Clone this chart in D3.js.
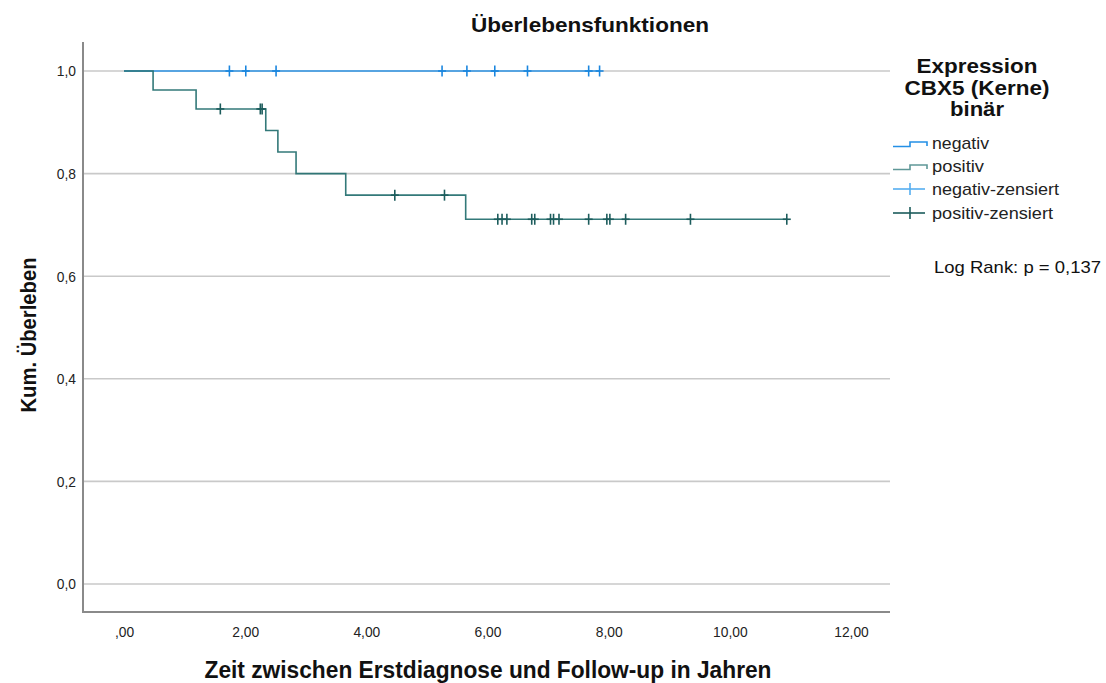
<!DOCTYPE html>
<html>
<head>
<meta charset="utf-8">
<script src="https://cdn.jsdelivr.net/npm/d3@7"></script>
<style>
  html, body { margin: 0; padding: 0; background: #fff; }
  svg { display: block; font-family: "Liberation Sans", Arial, sans-serif; }
</style>
</head>
<body>
<svg id="chart" width="1106" height="683"></svg>
<script>
// Kaplan-Meier data: Expression CBX5 (Kerne) binär
const groups = ["negativ", "positiv"];
const legendLabels = ["negativ", "positiv", "negativ-zensiert", "positiv-zensiert"];

// negativ: no events, only censored cases
const negStepTimes = [0];
const negStepSurv = [1.0];
const negEnd = 7.85;
const negCensored = [1.74, 2.01, 2.51, 5.25, 5.66, 6.12, 6.66, 7.67, 7.85];

// positiv: event times and survival after each step
const posStepTimes = [0, 0.48, 1.19, 2.34, 2.54, 2.84, 3.66, 5.64];
const posStepSurv = [1.0, 0.963, 0.926, 0.884, 0.842, 0.800, 0.758, 0.711];
const posEnd = 10.94;
const posCensored = [1.59, 2.25, 2.28, 4.47, 5.29, 6.17, 6.24, 6.32, 6.73, 6.78,
                     7.04, 7.09, 7.18, 7.67, 7.97, 8.02, 8.28, 9.35, 10.94];

const xTicks = [0, 2, 4, 6, 8, 10, 12];
const yTicks = [0, 0.2, 0.4, 0.6, 0.8, 1.0];
const logRankText = "Log Rank: p = 0,137";

const svg = d3.select("#chart");

const plot = { left: 83, right: 890, top: 42, bottom: 612 };
const x = d3.scaleLinear().domain([0, 12]).range([124, 851]);
const y = d3.scaleLinear().domain([0, 1]).range([584, 71]);

const colors = {
  negLine: "#2490e6", negMark: "#1a86df",
  posLine: "#287272", posMark: "#1c5c5c",
  posLegend: "#5f9898"
};

// squeeze text horizontally so glyphs are taller but keep a given width ratio
function condense(sel, ratio) {
  sel.each(function () {
    const w = this.getComputedTextLength();
    d3.select(this).attr("textLength", w * ratio).attr("lengthAdjust", "spacingAndGlyphs");
  });
}

// gridlines
svg.append("g").selectAll("line").data(yTicks).join("line")
  .attr("x1", plot.left).attr("x2", plot.right)
  .attr("y1", d => y(d)).attr("y2", d => y(d))
  .attr("stroke", "#c9c9c9").attr("stroke-width", 1.6);

// axis labels via d3 axes
const deComma = s => s.replace(".", ",");
const yAxis = d3.axisLeft(y).tickValues(yTicks).tickSize(0).tickPadding(6)
  .tickFormat(d => deComma(d3.format(".1f")(d)));
const gy = svg.append("g").attr("transform", `translate(${plot.left - 1},0)`).call(yAxis);
gy.select(".domain").remove();
gy.selectAll("text").attr("font-size", 15).attr("fill", "#222")
  .attr("font-family", "Liberation Sans, Arial, sans-serif").call(condense, 0.92);

const xAxis = d3.axisBottom(x).tickValues(xTicks).tickSize(0).tickPadding(14)
  .tickFormat(d => deComma(d3.format(".2f")(d)).replace(/^0,/, ","));
const gx = svg.append("g").attr("transform", `translate(0,${plot.bottom})`).call(xAxis);
gx.select(".domain").remove();
gx.selectAll("text").attr("font-size", 15).attr("fill", "#222")
  .attr("font-family", "Liberation Sans, Arial, sans-serif").call(condense, 0.92);

// axis frame lines
svg.append("line").attr("x1", plot.left).attr("x2", plot.left)
  .attr("y1", plot.top).attr("y2", plot.bottom)
  .attr("stroke", "#8a8a8a").attr("stroke-width", 2);
svg.append("line").attr("x1", plot.left - 1).attr("x2", plot.right)
  .attr("y1", plot.bottom).attr("y2", plot.bottom)
  .attr("stroke", "#8a8a8a").attr("stroke-width", 2);

// step curve builder
function stepPoints(times, surv, end) {
  const pts = times.map((t, i) => [t, surv[i]]);
  pts.push([end, surv[surv.length - 1]]);
  return pts;
}
function survAt(times, surv, t) {
  let s = surv[0];
  times.forEach((tt, i) => { if (tt <= t) s = surv[i]; });
  return s;
}
const stepLine = d3.line().x(d => x(d[0])).y(d => y(d[1])).curve(d3.curveStepAfter);

function drawGroup(times, surv, end, censored, lineColor, markColor) {
  const g = svg.append("g");
  g.append("path").datum(stepPoints(times, surv, end))
    .attr("d", stepLine).attr("fill", "none")
    .attr("stroke", lineColor).attr("stroke-width", 1.6).attr("opacity", 0.95);
  const marks = g.selectAll("g.cens").data(censored).join("g")
    .attr("transform", d => `translate(${x(d)},${y(survAt(times, surv, d))})`);
  marks.append("line").attr("x1", 0).attr("x2", 0).attr("y1", -5.5).attr("y2", 5.5)
    .attr("stroke", markColor).attr("stroke-width", 1.6);
  marks.append("line").attr("x1", -4).attr("x2", 4).attr("y1", 0).attr("y2", 0)
    .attr("stroke", markColor).attr("stroke-width", 1.6);
}
drawGroup(negStepTimes, negStepSurv, negEnd, negCensored, colors.negLine, colors.negMark);
drawGroup(posStepTimes, posStepSurv, posEnd, posCensored, colors.posLine, colors.posMark);

// titles
svg.append("text").attr("x", 590).attr("y", 32).attr("text-anchor", "middle")
  .attr("font-size", 21).attr("font-weight", "bold").attr("fill", "#111")
  .attr("textLength", 238).attr("lengthAdjust", "spacingAndGlyphs")
  .text("Überlebensfunktionen");

svg.append("text").attr("x", 488).attr("y", 678).attr("text-anchor", "middle")
  .attr("font-size", 23).attr("font-weight", "bold").attr("fill", "#111")
  .attr("textLength", 567).attr("lengthAdjust", "spacingAndGlyphs")
  .text("Zeit zwischen Erstdiagnose und Follow-up in Jahren");

svg.append("text").attr("transform", "translate(36,335) rotate(-90)")
  .attr("text-anchor", "middle")
  .attr("font-size", 22).attr("font-weight", "bold").attr("fill", "#111")
  .attr("textLength", 155).attr("lengthAdjust", "spacingAndGlyphs")
  .text("Kum. Überleben");

// legend title
const legTitle = [["Expression", 73, 121], ["CBX5 (Kerne)", 95, 145], ["binär", 116, 54]];
svg.append("g").selectAll("text").data(legTitle).join("text")
  .attr("x", 977).attr("y", d => d[1]).attr("text-anchor", "middle")
  .attr("font-size", 21).attr("font-weight", "bold").attr("fill", "#111")
  .attr("textLength", d => d[2]).attr("lengthAdjust", "spacingAndGlyphs")
  .text(d => d[0]);

// legend entries
const legY = [143, 166, 189, 213];
const legWidths = [57, 52, 127, 121];
const leg = svg.append("g");
legendLabels.forEach((lab, i) => {
  const cy = legY[i];
  if (i < 2) {
    const c = i === 0 ? colors.negLine : colors.posLegend;
    leg.append("path")
      .attr("d", `M893,${cy + 3.5}H910V${cy - 1}H927V${cy + 3}`)
      .attr("fill", "none").attr("stroke", c).attr("stroke-width", 1.6);
  } else {
    const c = i === 2 ? "#55aef0" : colors.posMark;
    leg.append("line").attr("x1", 893).attr("x2", 925).attr("y1", cy).attr("y2", cy)
      .attr("stroke", c).attr("stroke-width", 1.6);
    leg.append("line").attr("x1", 910).attr("x2", 910).attr("y1", cy - 6).attr("y2", cy + 6)
      .attr("stroke", c).attr("stroke-width", 1.6);
  }
  leg.append("text").attr("x", 932).attr("y", cy + 6)
    .attr("font-size", 17).attr("fill", "#222")
    .attr("textLength", legWidths[i]).attr("lengthAdjust", "spacingAndGlyphs")
    .text(lab);
});

svg.append("text").attr("x", 934).attr("y", 273)
  .attr("font-size", 17).attr("fill", "#111")
  .attr("textLength", 167).attr("lengthAdjust", "spacingAndGlyphs")
  .text(logRankText);
</script>
</body>
</html>
